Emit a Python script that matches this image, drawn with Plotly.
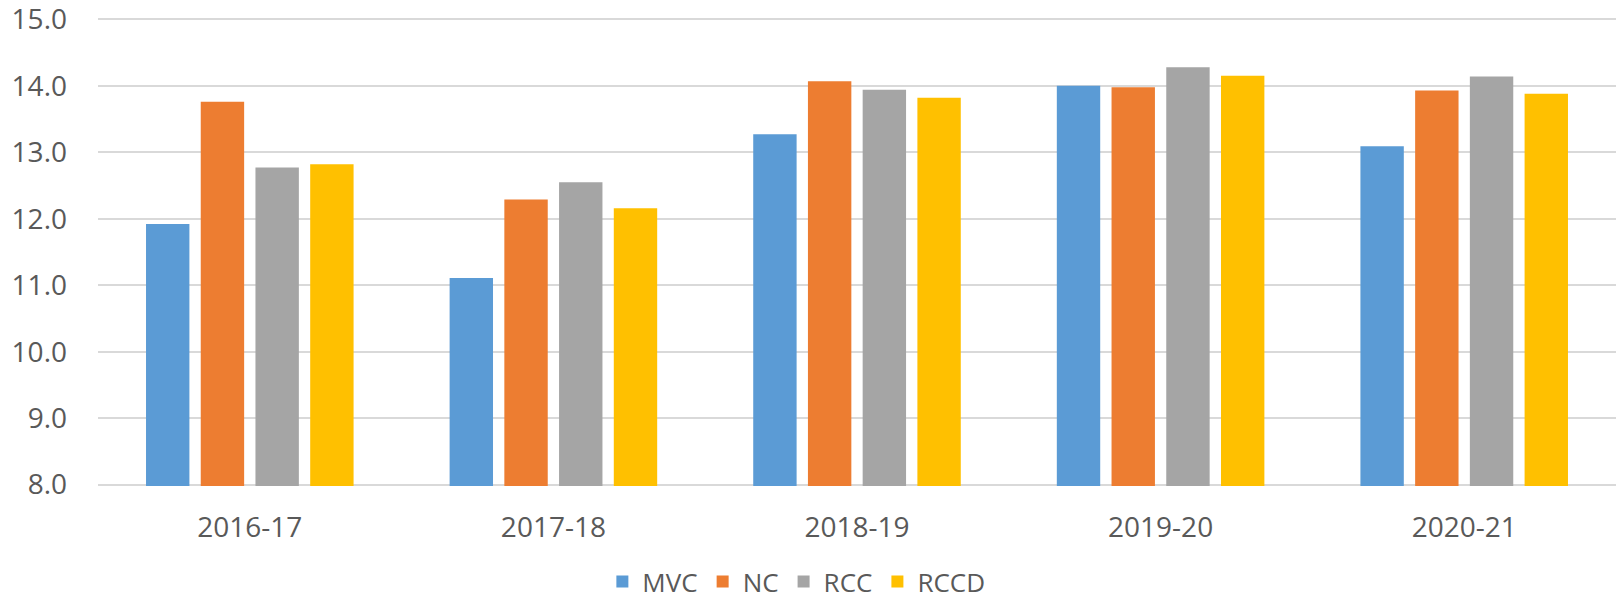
import plotly.graph_objects as go

categories = ["2016-17", "2017-18", "2018-19", "2019-20", "2020-21"]
mvc = [11.92, 11.11, 13.27, 14.00, 13.09]
nc = [13.76, 12.29, 14.07, 13.98, 13.93]
rcc = [12.77, 12.55, 13.94, 14.28, 14.14]
rccd = [12.82, 12.16, 13.82, 14.15, 13.88]

series = [("MVC", mvc, "#5B9BD5"), ("NC", nc, "#ED7D31"),
          ("RCC", rcc, "#A5A5A5"), ("RCCD", rccd, "#FFC000")]

fig = go.Figure()
for name, vals, color in series:
    fig.add_trace(go.Bar(x=categories, y=vals, name=name,
                         marker=dict(color=color, line=dict(width=0))))

font_color = "#595959"
fig.update_layout(
    width=1617, height=605,
    margin=dict(l=98, r=1, t=17.7, b=118.7, autoexpand=False),
    paper_bgcolor="white", plot_bgcolor="white",
    barmode="group", bargap=0.279, bargroupgap=0.207,
    font=dict(family="Open Sans", size=28, color=font_color),
    showlegend=True,
    legend=dict(orientation="h", xref="container", yref="container",
                x=0.4925, xanchor="center", y=0.0, yanchor="bottom",
                font=dict(size=26, color=font_color),
                itemwidth=30, traceorder="normal"),
    xaxis=dict(showgrid=False, showline=False, ticks="", automargin=False,
               ticklabelstandoff=22, tickfont=dict(size=28, color=font_color)),
    yaxis=dict(range=[7.98, 15.02], tick0=8, dtick=1, tickformat=".1f",
               showgrid=True, gridcolor="#D9D9D9", gridwidth=1.5,
               zeroline=False, showline=False, ticks="", automargin=False,
               ticklabeloverflow="allow",
               ticklabelstandoff=30, tickfont=dict(size=28, color=font_color)),
)

fig.write_html("out.html", config={"displayModeBar": False},
               post_script="document.body.style.margin='0';")
